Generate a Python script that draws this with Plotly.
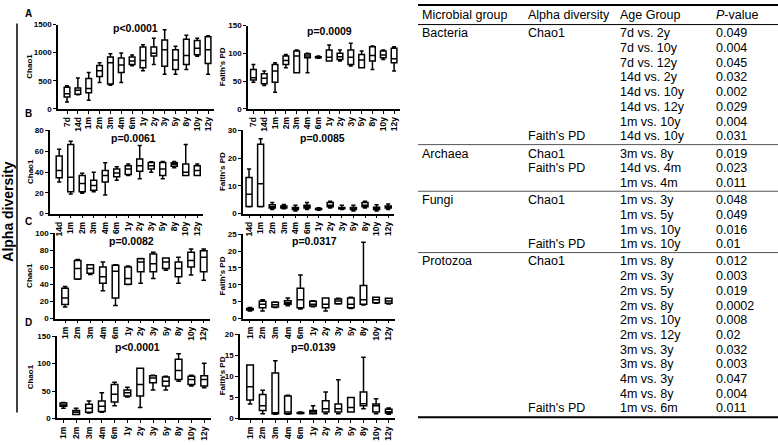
import plotly.graph_objects as go

W, H = 778, 445

# ---------------- categories ----------------
cats_A = ["7d", "14d", "1m", "2m", "3m", "4m", "6m", "1y", "2y", "3y", "5y", "8y", "10y", "12y"]
cats_B = ["14d", "1m", "2m", "3m", "4m", "6m", "1y", "2y", "3y", "5y", "8y", "10y", "12y"]
cats_CD = ["1m", "2m", "3m", "4m", "6m", "1y", "2y", "3y", "5y", "8y", "10y", "12y"]

# ---------------- A: Bacteria ----------------
bac_chao_lo = [120, 250, 155, 470, 420, 470, 768, 680, 790, 615, 615, 700, 935, 615]
bac_chao_q1 = [209, 260, 285, 575, 440, 645, 790, 733, 942, 760, 700, 790, 965, 808]
bac_chao_med = [270, 330, 360, 680, 820, 780, 850, 860, 990, 1050, 870, 950, 1080, 1050]
bac_chao_q3 = [384, 370, 540, 773, 925, 907, 925, 1100, 1100, 1225, 1050, 1240, 1215, 1285]
bac_chao_hi = [410, 550, 645, 820, 980, 995, 960, 1140, 1256, 1410, 1115, 1310, 1255, 1300]

bac_pd_lo = [48, 42, 30, 74, 65, 65, 91, 86, 86, 77, 74, 71, 89, 68]
bac_pd_q1 = [52, 45, 48, 80, 65, 92, 92, 86, 89, 80, 74, 86, 92, 83]
bac_pd_med = [56, 55, 68, 87, 95, 95, 93, 93, 94, 93, 88, 96, 97, 90]
bac_pd_q3 = [71, 63, 80, 95, 104, 99, 94, 106, 100, 106, 98, 112, 104, 109]
bac_pd_hi = [80, 68, 83, 98, 106, 100, 95, 115, 106, 118, 104, 113, 106, 112]

# ---------------- B: Archaea ----------------
arc_chao_lo = [30.4, 18.8, 19.5, 21, 17.9, 32, 36.7, 33.6, 39.8, 33.6, 44, 36.7, 36.7]
arc_chao_q1 = [34.5, 21, 21, 22.6, 30.4, 35.5, 37.6, 40.8, 43, 36.7, 45.5, 36.7, 36.7]
arc_chao_med = [41.4, 35, 29, 27, 36.7, 39, 43, 46, 46, 43, 47.5, 39.8, 41.4]
arc_chao_q3 = [55.5, 66.5, 36.7, 32, 41.4, 43, 46, 52.4, 49.2, 49.2, 49, 47.7, 46]
arc_chao_hi = [61.8, 69.6, 38.9, 39.8, 49, 45, 47.7, 65.6, 49.9, 50, 50, 66.5, 47.7]

arc_pd_lo = [2.5, 2.5, 1.5, 1.8, 1, 1.5, 1.2, 2, 1.5, 1, 2, 1, 1.5]
arc_pd_q1 = [2.6, 2.6, 2, 2, 1.5, 2, 1.5, 2.5, 1.8, 1.5, 2.5, 1.5, 2]
arc_pd_med = [7, 10.8, 2.5, 2.3, 2, 2.5, 1.7, 3, 2, 2, 3, 2, 2.5]
arc_pd_q3 = [13, 25, 3.2, 2.8, 2.2, 3, 1.9, 4, 2.2, 2.2, 4, 2.3, 2.8]
arc_pd_hi = [16.1, 27, 4, 3.3, 3, 4, 2.1, 4.5, 3, 3, 4.5, 3.2, 3.5]

# ---------------- C: Fungi ----------------
fun_chao_lo = [13.4, 46, 51.7, 32.5, 15.3, 40, 41.4, 47, 56.6, 41.4, 51, 45]
fun_chao_q1 = [16.4, 46.4, 53, 41.4, 24, 40.2, 54.8, 54.8, 58.6, 49, 60.5, 54.8]
fun_chao_med = [24, 58.6, 58.6, 49, 55.5, 47, 66.3, 64.3, 66.3, 58.6, 68, 72]
fun_chao_q3 = [35.6, 68, 63, 60.5, 62.4, 60.5, 70, 75.8, 70.9, 66.3, 77.8, 79.6]
fun_chao_hi = [37.5, 69.3, 63, 66.3, 63, 61.7, 70.5, 77.8, 70.9, 72, 81.6, 81.6]

fun_pd_lo = [2.2, 2.2, 3.3, 3.8, 2.8, 3.5, 2.2, 4.3, 3, 4, 4.5, 4.3]
fun_pd_q1 = [2.5, 3.2, 3.4, 4.2, 3.2, 3.7, 3.2, 4.4, 3.2, 4.2, 4.7, 4.5]
fun_pd_med = [2.7, 4.2, 4.1, 4.7, 5.6, 4.2, 4.2, 5.2, 4.2, 5.6, 5.6, 5.2]
fun_pd_q3 = [3, 5.1, 4.8, 5.3, 9, 5.1, 6.1, 5.8, 6.1, 9.8, 6.3, 6]
fun_pd_hi = [3.3, 5.6, 4.9, 6.1, 12.9, 5.3, 6.1, 6, 6.3, 22.6, 6.3, 6]

# ---------------- D: Protozoa ----------------
pro_chao_lo = [18.4, 7, 10, 11.3, 23, 39, 20, 51.8, 51.8, 68, 59, 56]
pro_chao_q1 = [22, 7, 11.3, 12.5, 30, 41, 41, 65, 59, 70.9, 62, 59]
pro_chao_med = [24.4, 11.3, 18.4, 22, 44, 47, 62, 73.8, 67.9, 87.5, 70.9, 71]
pro_chao_q3 = [28, 14.3, 26, 32, 62, 52, 91.6, 78, 75.6, 107.7, 76.8, 78]
pro_chao_hi = [29, 18.4, 32, 47, 66, 57, 91.6, 78.6, 76.8, 118, 78.6, 100.5]

pro_pd_lo = [3.4, 1.1, 1, 1, 1.1, 1.1, 1.1, 1.1, 1.5, 2.3, 1.1, 1.0]
pro_pd_q1 = [4.4, 1.9, 1.1, 1.1, 1.2, 1.1, 1.5, 1.5, 1.5, 3, 1.5, 1.3]
pro_pd_med = [7.5, 3, 1.3, 1.5, 1.3, 1.5, 2.3, 2.3, 2.6, 3.5, 3, 1.6]
pro_pd_q3 = [12.7, 5.7, 10.8, 5.3, 1.4, 1.9, 4.2, 3.4, 5, 6.3, 3.4, 2.2]
pro_pd_hi = [12.7, 6.7, 13.7, 5.5, 1.5, 3, 6.3, 9.2, 5, 14.5, 4.7, 2.5]

# p-values shown in panels
panel_pvals = ["p<0.0001", "p=0.0009", "p=0.0061", "p=0.0085",
               "p=0.0082", "p=0.0317", "p<0.0001", "p=0.0139"]
panel_ytitles = ["Chao1", "Faith's PD"] * 4
panel_letters = ["A", "B", "C", "D"]

# ---------------- table ----------------
tbl_headers = ["Microbial group", "Alpha diversity", "Age Group", "<i>P</i>-value"]
tbl_groups = ["Bacteria", "Archaea", "Fungi", "Protozoa"]
tbl_group_rows = [8, 3, 4, 11]
tbl_metric = ["Chao1", "", "", "", "", "", "", "Faith's PD",
              "Chao1", "Faith's PD", "",
              "Chao1", "", "", "Faith's PD",
              "Chao1", "", "", "", "", "", "", "", "", "", "Faith's PD"]
tbl_age = ["7d vs. 2y", "7d vs. 10y", "7d vs. 12y", "14d vs. 2y", "14d vs. 10y",
           "14d vs. 12y", "1m vs. 10y", "14d vs. 10y",
           "3m vs. 8y", "14d vs. 4m", "1m vs. 4m",
           "1m vs. 3y", "1m vs. 5y", "1m vs. 10y", "1m vs. 10y",
           "1m vs. 8y", "2m vs. 3y", "2m vs. 5y", "2m vs. 8y", "2m vs. 10y", "2m vs. 12y",
           "3m vs. 3y", "3m vs. 8y", "4m vs. 3y", "4m vs. 8y", "1m vs. 6m"]
tbl_p = ["0.049", "0.004", "0.045", "0.032", "0.002", "0.029", "0.004", "0.031",
         "0.019", "0.023", "0.011",
         "0.048", "0.049", "0.016", "0.01",
         "0.012", "0.003", "0.019", "0.0002", "0.008", "0.02",
         "0.032", "0.003", "0.047", "0.004", "0.011"]

# ---------------- layout helpers ----------------
def fx(x):
    return x / W


def fy(y):
    return 1 - y / H


panels = [
    (cats_A, bac_chao_lo, bac_chao_q1, bac_chao_med, bac_chao_q3, bac_chao_hi),
    (cats_A, bac_pd_lo, bac_pd_q1, bac_pd_med, bac_pd_q3, bac_pd_hi),
    (cats_B, arc_chao_lo, arc_chao_q1, arc_chao_med, arc_chao_q3, arc_chao_hi),
    (cats_B, arc_pd_lo, arc_pd_q1, arc_pd_med, arc_pd_q3, arc_pd_hi),
    (cats_CD, fun_chao_lo, fun_chao_q1, fun_chao_med, fun_chao_q3, fun_chao_hi),
    (cats_CD, fun_pd_lo, fun_pd_q1, fun_pd_med, fun_pd_q3, fun_pd_hi),
    (cats_CD, pro_chao_lo, pro_chao_q1, pro_chao_med, pro_chao_q3, pro_chao_hi),
    (cats_CD, pro_pd_lo, pro_pd_q1, pro_pd_med, pro_pd_q3, pro_pd_hi),
]

# pixel geometry: (x_left, x_right, x_range_start, y_bottom, y_top, ymax, dtick, pval_x, pval_y, ytitle_x)
geom = [
    (58, 213.5, -0.83, 107, 21, 1500, 500, 135, 25, 30),
    (248, 399.5, -0.5, 107, 22, 150, 50, 329, 28, 222),
    (50, 203, -0.8, 214, 129, 80, 20, 133, 137, 30),
    (243, 394, -0.52, 214, 129, 30, 10, 322, 137, 222),
    (55, 210, -0.8, 321, 234, 100, 20, 131, 242, 30),
    (243, 395, -0.55, 321, 235, 25, 5, 314, 242, 222),
    (57, 210.6, -0.5, 423, 339, 150, 50, 137, 350, 30),
    (240, 395, -0.8, 423, 337, 20, 5, 313, 350, 222),
]

fig = go.Figure()
layout = dict(
    width=W, height=H,
    margin=dict(l=0, r=0, t=0, b=0),
    paper_bgcolor="white", plot_bgcolor="white",
    showlegend=False,
    font=dict(family="Liberation Sans, Arial, sans-serif", color="black"),
)
annotations = []
shapes = []

for i, (p, g) in enumerate(zip(panels, geom)):
    cats, lo, q1, med, q3, hi = p
    x0, x1, r0, yb, yt, ymax, dt, pvx, pvy, ytx = g
    k = i + 1
    fig.add_trace(go.Box(
        x=cats, lowerfence=lo, q1=q1, median=med, q3=q3, upperfence=hi,
        fillcolor="white", line=dict(color="black", width=1.5),
        width=0.52, whiskerwidth=0.7, boxpoints=False,
        xaxis=f"x{k}", yaxis=f"y{k}", hoverinfo="skip",
    ))
    layout[f"xaxis{k}"] = dict(
        domain=[fx(x0), fx(x1)], anchor=f"y{k}",
        type="category", categoryorder="array", categoryarray=cats,
        range=[r0, len(cats) - 0.5],
        showline=True, linecolor="black", linewidth=1.5,
        ticks="outside", ticklen=3, tickwidth=1.2, tickcolor="black",
        tickangle=-90, tickfont=dict(size=8.5, weight="bold", color="black"),
        showgrid=False, zeroline=False,
    )
    layout[f"yaxis{k}"] = dict(
        domain=[fy(yb), fy(yt)], anchor=f"x{k}",
        range=[0, ymax], tickmode="linear", tick0=0, dtick=dt,
        showline=True, linecolor="black", linewidth=1.5,
        ticks="outside", ticklen=3, tickwidth=1.2, tickcolor="black",
        tickfont=dict(size=8, weight="bold", color="black"),
        showgrid=False, zeroline=False,
    )
    annotations.append(dict(
        x=fx(pvx), y=fy(pvy), xref="paper", yref="paper",
        text=f"<b>{panel_pvals[i]}</b>", showarrow=False,
        xanchor="center", yanchor="middle", font=dict(size=10.5, color="black"),
    ))
    annotations.append(dict(
        x=fx(ytx), y=fy((yb + yt) / 2), xref="paper", yref="paper",
        text=f"<b>{panel_ytitles[i]}</b>", showarrow=False, textangle=-90,
        xanchor="center", yanchor="middle", font=dict(size=8, color="black"),
    ))

# panel letters
for letter, ly in zip(panel_letters, [10, 112, 222, 325]):
    annotations.append(dict(
        x=fx(28), y=fy(ly), xref="paper", yref="paper", text=f"<b>{letter}</b>",
        showarrow=False, xanchor="center", yanchor="middle",
        font=dict(size=10, color="black"),
    ))

# big side label + bracket line
annotations.append(dict(
    x=fx(8), y=fy(212), xref="paper", yref="paper", text="<b>Alpha diversity</b>",
    showarrow=False, textangle=-90, xanchor="center", yanchor="middle",
    font=dict(size=14, color="black"),
))
shapes.append(dict(type="line", xref="paper", yref="paper",
                   x0=fx(17), x1=fx(17), y0=fy(20), y1=fy(417),
                   line=dict(color="black", width=1.5)))

# ---------------- table drawing ----------------
col_x = [420, 526, 618, 714]
tx0, tx1 = 418, 778
header_y = 11
row_step = 15.0
gap = 2.6
tfont = dict(size=12.5, color="black", family="Liberation Sans, Arial, sans-serif")

shapes.append(dict(type="line", xref="paper", yref="paper", x0=fx(tx0), x1=fx(tx1),
                   y0=fy(1), y1=fy(1), line=dict(color="black", width=2)))
shapes.append(dict(type="line", xref="paper", yref="paper", x0=fx(tx0), x1=fx(tx1),
                   y0=fy(21), y1=fy(21), line=dict(color="black", width=1)))
for cx, htxt in zip(col_x, tbl_headers):
    annotations.append(dict(x=fx(cx), y=fy(header_y), xref="paper", yref="paper",
                            text=htxt, showarrow=False, xanchor="left", yanchor="middle",
                            font=tfont))

row = 0
for gi, (gname, nrows) in enumerate(zip(tbl_groups, tbl_group_rows)):
    for j in range(nrows):
        ry = 30 + row_step * row + gap * gi
        cells = [gname if j == 0 else "", tbl_metric[row], tbl_age[row], tbl_p[row]]
        for cx, ctxt in zip(col_x, cells):
            if ctxt:
                annotations.append(dict(x=fx(cx), y=fy(ry), xref="paper", yref="paper",
                                        text=ctxt, showarrow=False, xanchor="left",
                                        yanchor="middle", font=tfont))
        row += 1
    last_y = 30 + row_step * (row - 1) + gap * gi
    if gi < len(tbl_groups) - 1:
        ly = last_y + 8.5
        shapes.append(dict(type="line", xref="paper", yref="paper", x0=fx(tx0), x1=fx(tx1),
                           y0=fy(ly), y1=fy(ly), line=dict(color="#555555", width=1)))
    else:
        ly = last_y + 9
        shapes.append(dict(type="line", xref="paper", yref="paper", x0=fx(tx0), x1=fx(tx1),
                           y0=fy(ly), y1=fy(ly), line=dict(color="black", width=2)))

layout["annotations"] = annotations
layout["shapes"] = shapes
fig.update_layout(**layout)
fig.write_html("out.html", config={"displayModeBar": False},
               post_script="document.body.style.margin='0';document.body.style.padding='0';")
